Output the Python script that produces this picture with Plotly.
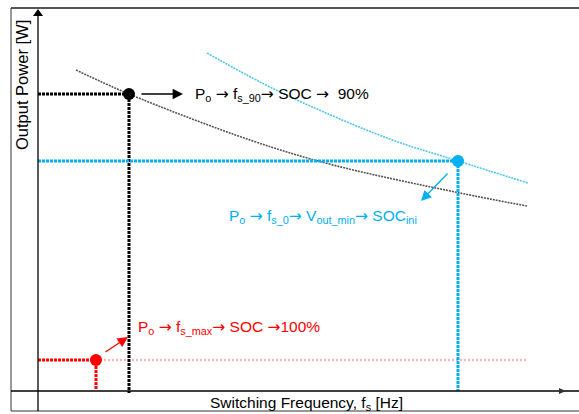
import plotly.graph_objects as go

W, H = 579, 414
# Data units: frequency (x) and power (y), arbitrary units; origin at axes crossing
x_range = [-38, 541]
y_range = [-23, 391]

# characteristic curves
gray_f = [38, 91, 212, 295, 422, 489]
gray_p = [321, 297, 251, 226, 198, 185]
cyan_f = [169, 242, 349, 420, 490]
cyan_p = [338, 299, 253, 230, 208]

# operating points
f_90, p_90 = 91, 297
f_0, p_0 = 420, 230
f_max, p_max = 58, 31
red_line_end = 489

BLUE = "#00B0F0"
RED = "#FF0000"
FONT = "Liberation Sans, Arial, sans-serif"
AR = '<span style="font-family:DejaVu Sans">→</span>'

fig = go.Figure()

fig.add_trace(go.Scatter(x=gray_f, y=gray_p, mode="lines", line=dict(color="#555555", width=1.6, dash="2px,1px", shape="spline"), hoverinfo="skip"))
fig.add_trace(go.Scatter(x=cyan_f, y=cyan_p, mode="lines", line=dict(color="#4EC6EA", width=1.6, dash="2px,1px", shape="spline"), hoverinfo="skip"))

# red thin line
fig.add_trace(go.Scatter(x=[f_max, red_line_end], y=[p_max, p_max], mode="lines", line=dict(color="#FF6060", width=1, dash="2px,2px"), hoverinfo="skip"))

def guide(f, p, color, ybot=-2):
    fig.add_trace(go.Scatter(x=[0, f, f], y=[p, p, ybot], mode="lines", line=dict(color=color, width=3, dash="3px,1px"), hoverinfo="skip"))
    fig.add_trace(go.Scatter(x=[f], y=[p], mode="markers", marker=dict(color=color, size=12), hoverinfo="skip"))

guide(f_90, p_90, "#000000", -2)
guide(f_0, p_0, BLUE, 0)
guide(f_max, p_max, RED, 2)

# arrows
fig.add_annotation(x=145, y=297, ax=102, ay=297, axref="x", ayref="y", xref="x", yref="y", showarrow=True, arrowhead=2, arrowsize=1.6, arrowwidth=1.3, arrowcolor="#000000", text="")
fig.add_annotation(x=383, y=190, ax=411, ay=219, axref="x", ayref="y", xref="x", yref="y", showarrow=True, arrowhead=2, arrowsize=1.6, arrowwidth=1.3, arrowcolor=BLUE, text="")
fig.add_annotation(x=90, y=54, ax=66, ay=38, axref="x", ayref="y", xref="x", yref="y", showarrow=True, arrowhead=2, arrowsize=1.6, arrowwidth=1.3, arrowcolor=RED, text="")

# labels
fig.add_annotation(x=155, y=297, xref="x", yref="y", xanchor="left", yanchor="middle", showarrow=False,
                   text=f"P<sub>o</sub> {AR} f<sub>s_90</sub>{AR} SOC {AR}  90%", font=dict(family=FONT, size=15.5, color="#000000"))
fig.add_annotation(x=189, y=175, xref="x", yref="y", xanchor="left", yanchor="middle", showarrow=False,
                   text=f"P<sub>o</sub> {AR} f<sub>s_0</sub>{AR} V<sub>out_min</sub>{AR} SOC<sub>ini</sub>", font=dict(family=FONT, size=15.5, color=BLUE))
fig.add_annotation(x=98, y=64, xref="x", yref="y", xanchor="left", yanchor="middle", showarrow=False,
                   text=f"P<sub>o</sub> {AR} f<sub>s_max</sub>{AR} SOC {AR}100%", font=dict(family=FONT, size=15.5, color=RED))

# axis titles
fig.add_annotation(x=306 / W, y=1 - 403 / H, xref="paper", yref="paper", xanchor="center", yanchor="middle", showarrow=False,
                   text="Switching Frequency, f<sub>s</sub> [Hz]", font=dict(family=FONT, size=15.5, color="#000000"))
fig.add_annotation(x=22 / W, y=1 - 85 / H, xref="paper", yref="paper", xanchor="center", yanchor="middle", showarrow=False, textangle=-90,
                   text="Output Power [W]", font=dict(family=FONT, size=16.5, color="#000000"))

def px(x): return x / W
def py(y): return 1 - y / H

shapes = [
    # frame
    dict(type="line", xref="paper", yref="paper", x0=px(11), y0=py(8), x1=px(579), y1=py(8), line=dict(color="#555555", width=2)),
    dict(type="line", xref="paper", yref="paper", x0=px(11), y0=py(8), x1=px(11), y1=py(411), line=dict(color="#333333", width=1)),
    dict(type="line", xref="paper", yref="paper", x0=px(11), y0=py(411), x1=px(579), y1=py(411), line=dict(color="#333333", width=1)),
    # axes
    dict(type="line", xref="paper", yref="paper", x0=px(38), y0=py(14), x1=px(38), y1=py(411), line=dict(color="#000000", width=1.3)),
    dict(type="line", xref="paper", yref="paper", x0=px(11), y0=py(391), x1=px(579), y1=py(391), line=dict(color="#000000", width=1.3)),
    # y-axis arrow head
    dict(type="path", xref="paper", yref="paper",
         path=f"M {px(33)},{py(16)} L {px(38)},{py(9)} L {px(43)},{py(16)} Z", fillcolor="#000000", line=dict(color="#000000", width=0)),
    # x-axis arrow head (faint)
    dict(type="path", xref="paper", yref="paper",
         path=f"M {px(559)},{py(388)} L {px(566)},{py(391)} L {px(559)},{py(394)} Z", fillcolor="#333333", line=dict(color="#333333", width=0)),
]

fig.update_layout(
    width=W, height=H, margin=dict(l=0, r=0, t=0, b=0),
    paper_bgcolor="#FFFFFF", plot_bgcolor="#FFFFFF", showlegend=False,
    xaxis=dict(range=x_range, visible=False, fixedrange=True),
    yaxis=dict(range=y_range, visible=False, fixedrange=True),
    shapes=shapes,
)

fig.write_html("out.html")
